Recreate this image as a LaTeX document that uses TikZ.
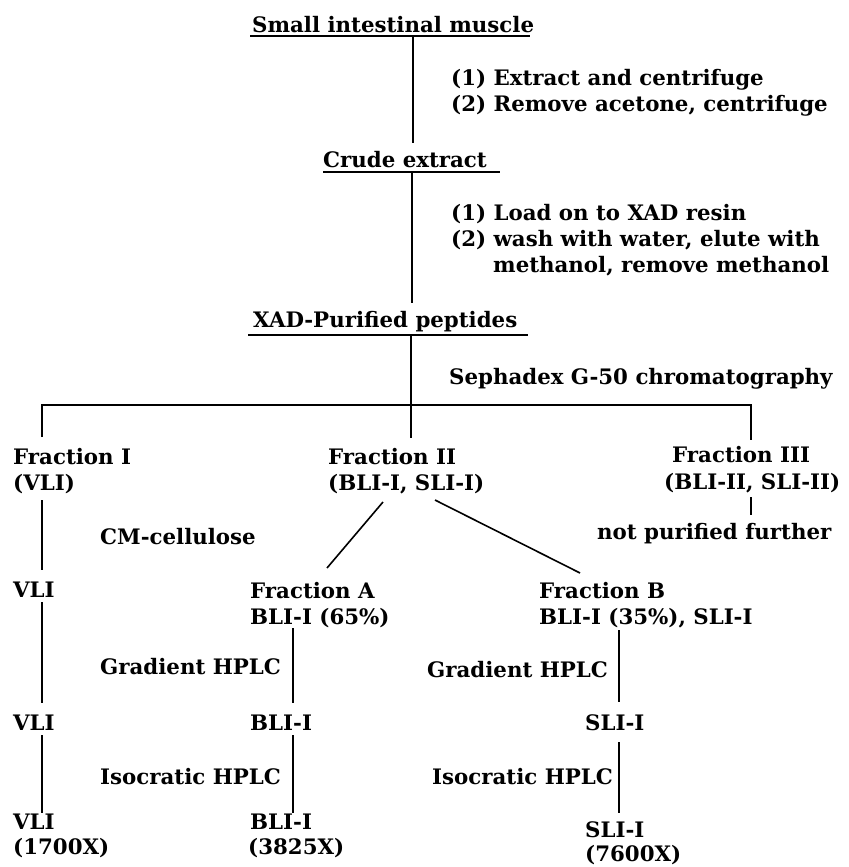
\documentclass[tikz,border=0pt]{standalone}
\usepackage{fontspec}
\setmainfont{DejaVu Serif}
\begin{document}
\begin{tikzpicture}[x=1bp,y=-1bp,
  lbl/.style={inner sep=0pt, anchor=base west, font=\fontsize{21.4}{25}\selectfont\bfseries},
  conn/.style={line width=1.6bp, line cap=butt}]
\useasboundingbox[fill=white] (0,0) rectangle (849,867);
% top chain
\node[lbl] (title) at (252,32) {Small intestinal muscle};
\coordinate (u1a) at (250,36); \coordinate (u1b) at (530,36);
\draw[conn] (u1a) -- (u1b);
\coordinate (v1a) at (413,36); \coordinate (v1b) at (413,143);
\draw[conn] (v1a) -- (v1b);
\node[lbl] (s1) at (451,85) {(1) Extract and centrifuge};
\node[lbl] (s2) at (451,111) {(2) Remove acetone, centrifuge};
\node[lbl] (crude) at (323,167) {Crude extract};
\coordinate (u2a) at (323,172); \coordinate (u2b) at (500,172);
\draw[conn] (u2a) -- (u2b);
\coordinate (v2a) at (412,172); \coordinate (v2b) at (412,303);
\draw[conn] (v2a) -- (v2b);
\node[lbl] (s3) at (451,220) {(1) Load on to XAD resin};
\node[lbl] (s4) at (451,246) {(2) wash with water, elute with};
\node[lbl] (s5) at (493,272) {methanol, remove methanol};
\node[lbl] (xad) at (253,327) {XAD-Purified peptides};
\coordinate (u3a) at (248,335); \coordinate (u3b) at (528,335);
\draw[conn] (u3a) -- (u3b);
\coordinate (v3a) at (411,335); \coordinate (v3b) at (411,438);
\draw[conn] (v3a) -- (v3b);
\node[lbl] (seph) at (449,384) {Sephadex G-50 chromatography};
% bracket
\coordinate (hl) at (42,405); \coordinate (hr) at (751,405);
\coordinate (bl) at (42,437); \coordinate (br) at (751,440);
\draw[conn] (bl) -- (hl) -- (hr) -- (br);
% fractions
\node[lbl] (f1) at (13,464) {Fraction I};
\node[lbl] (f1b) at (13,490) {(VLI)};
\node[lbl] (f2) at (328,464) {Fraction II};
\node[lbl] (f2b) at (328,490) {(BLI-I, SLI-I)};
\node[lbl] (f3) at (672,462) {Fraction III};
\node[lbl] (f3b) at (664,489) {(BLI-II, SLI-II)};
\coordinate (v4a) at (751,497); \coordinate (v4b) at (751,515);
\draw[conn] (v4a) -- (v4b);
\node[lbl] (npf) at (597,539) {not purified further};
% left column
\coordinate (c1a) at (42,500); \coordinate (c1b) at (42,570);
\draw[conn] (c1a) -- (c1b);
\node[lbl] (cm) at (100,544) {CM-cellulose};
\node[lbl] (vli1) at (13,597) {VLI};
\coordinate (c2a) at (42,602); \coordinate (c2b) at (42,703);
\draw[conn] (c2a) -- (c2b);
\node[lbl] (vli2) at (13,730) {VLI};
\coordinate (c3a) at (42,735); \coordinate (c3b) at (42,813);
\draw[conn] (c3a) -- (c3b);
\node[lbl] (vli3) at (13,829) {VLI};
\node[lbl] (vli3b) at (13,854) {(1700X)};
% diagonals
\coordinate (d1a) at (383,502); \coordinate (d1b) at (327,568);
\draw[conn] (d1a) -- (d1b);
\coordinate (d2a) at (435,500); \coordinate (d2b) at (580,573);
\draw[conn] (d2a) -- (d2b);
% middle column
\node[lbl] (fa) at (250,598) {Fraction A};
\node[lbl] (fab) at (250,624) {BLI-I (65\%)};
\coordinate (m1a) at (293,628); \coordinate (m1b) at (293,703);
\draw[conn] (m1a) -- (m1b);
\node[lbl] (g1) at (100,674) {Gradient HPLC};
\node[lbl] (bli1) at (250,730) {BLI-I};
\coordinate (m2a) at (293,735); \coordinate (m2b) at (293,813);
\draw[conn] (m2a) -- (m2b);
\node[lbl] (i1) at (100,784) {Isocratic HPLC};
\node[lbl] (bli2) at (250,829) {BLI-I};
\node[lbl] (bli2b) at (248,854) {(3825X)};
% right column
\node[lbl] (fb) at (539,598) {Fraction B};
\node[lbl] (fbb) at (539,624) {BLI-I (35\%), SLI-I};
\coordinate (r1a) at (619,630); \coordinate (r1b) at (619,702);
\draw[conn] (r1a) -- (r1b);
\node[lbl] (g2) at (427,677) {Gradient HPLC};
\node[lbl] (sli1) at (585,730) {SLI-I};
\coordinate (r2a) at (619,742); \coordinate (r2b) at (619,813);
\draw[conn] (r2a) -- (r2b);
\node[lbl] (i2) at (432,784) {Isocratic HPLC};
\node[lbl] (sli2) at (585,837) {SLI-I};
\node[lbl] (sli2b) at (585,861) {(7600X)};
\end{tikzpicture}
\end{document}
